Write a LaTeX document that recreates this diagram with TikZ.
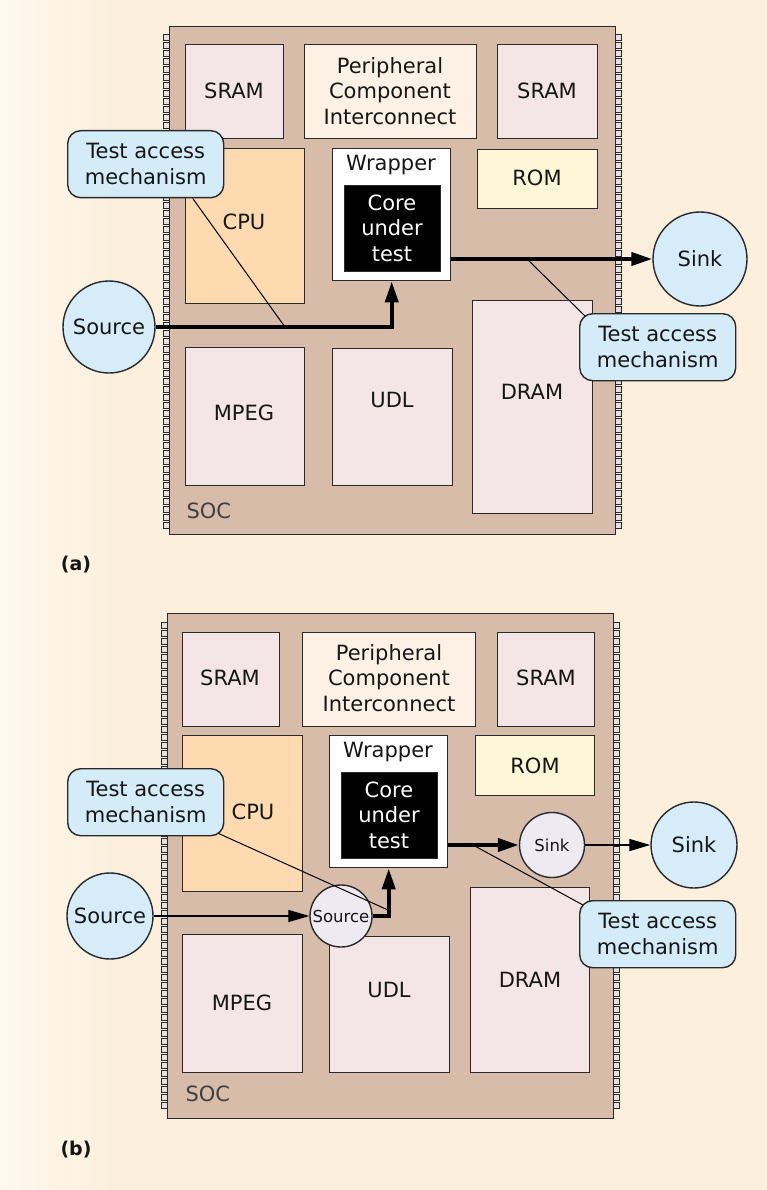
\documentclass[tikz,border=0pt]{standalone}
\usepackage{fontspec}
\setmainfont{DejaVu Sans}
\usetikzlibrary{arrows.meta}

\definecolor{paper}{HTML}{FCF0DD}
\definecolor{paperlight}{HTML}{FEF8EE}
\definecolor{die}{HTML}{D8BCAA}
\definecolor{block}{HTML}{F4E6E6}
\definecolor{pcifill}{HTML}{FDF1E5}
\definecolor{cpufill}{HTML}{FDDAB0}
\definecolor{romfill}{HTML}{FDF6D7}
\definecolor{tam}{HTML}{D4EBF8}
\definecolor{portfill}{HTML}{D6ECF8}
\definecolor{probefill}{HTML}{EEEAF2}
\definecolor{pinfill}{HTML}{E2E2E2}
\definecolor{edge}{HTML}{2A2A2A}
\definecolor{ink}{HTML}{161616}

% rectangular block spanning (x1,y1)-(x2,y2), y measured downwards
\newcommand\blockbox[6]{%
  \node[blk, fill=#6, minimum width={#4pt-#2pt}, minimum height={#5pt-#3pt}] (#1) at (#2,#3) {};}

\tikzset{
  every node/.style={font=\fontsize{21}{25.5}\selectfont, text=ink},
  blk/.style={draw=edge, line width=1.4pt, inner sep=0pt, anchor=north west},
  pin/.style={draw=edge, line width=0.9pt, fill=pinfill},
  bus/.style={line width=4pt, -{Triangle[length=21pt,width=13pt]}},
  wire/.style={line width=1.3pt, -{Triangle[length=21pt,width=12pt]}},
  lead/.style={line width=1pt},
  callout/.style={draw=edge, line width=1.4pt, fill=tam, rounded corners=13pt,
    align=center, inner sep=0pt, anchor=north west,
    minimum width=156pt, minimum height=67pt},
  port/.style={circle, draw=edge, line width=1.4pt, fill=portfill, inner sep=0pt},
  probe/.style={circle, draw=edge, line width=1.4pt, fill=probefill, inner sep=0pt,
    font=\fontsize{16.5}{20}\selectfont},
  soclabel/.style={anchor=west, text=edge!90},
  panel/.style={font=\fontsize{19}{23}\selectfont\bfseries},
}

\begin{document}
\begin{tikzpicture}[x=1pt,y=-1pt]
\useasboundingbox (0,0) rectangle (767,1190);
\fill[paper] (0,0) rectangle (767,1190);
\shade[left color=paperlight, right color=paper] (0,0) rectangle (110,1190);

% ---------------- (a) ----------------
\foreach \y in {34,42,...,522} {
  \draw[pin] (163,\y) rectangle (169,\y+6);
  \draw[pin] (615,\y) rectangle (621,\y+6);
}
\blockbox{soca}{169}{26}{615}{534}{die}
\node[soclabel] (soctxta) at (183,511) {SOC};

\blockbox{srama1}{185}{44}{283}{138}{block}
\node (sramtxta1) at (234,91) {SRAM};
\blockbox{pcia}{304}{44}{476}{138}{pcifill}
\node[align=center] (pcitxta) at (390,91) {Peripheral\\Component\\Interconnect};
\blockbox{srama2}{497}{44}{597}{138}{block}
\node (sramtxta2) at (547,91) {SRAM};

\blockbox{cpua}{185}{148}{304}{303}{cpufill}
\node (cputxta) at (244,222) {CPU};
\blockbox{wrapa}{332}{148}{450}{280}{white}
\node (wraptxta) at (391,165) {Wrapper};
\blockbox{corea}{344}{185}{440}{271}{black}
\node[align=center, text=white] (coretxta) at (392,228) {Core\\under\\test};
\blockbox{roma}{477}{149}{597}{208}{romfill}
\node (romtxta) at (537,178) {ROM};

\blockbox{mpega}{185}{347}{304}{485}{block}
\node (mpegtxta) at (244,413) {MPEG};
\blockbox{udla}{332}{348}{452}{485}{block}
\node (udltxta) at (392,400) {UDL};
\blockbox{drama}{472}{300}{592}{513}{block}
\node (dramtxta) at (532,392) {DRAM};

\node[port, minimum size=92pt] (srca) at (109,327) {Source};
\node[port, minimum size=94pt] (sinka) at (700,259) {Sink};

\draw[bus] (srca) -- (srca -| wrapa) -- (wrapa);
\draw[bus] (wrapa.east |- sinka) -- (sinka);

\coordinate (tapa1) at (285,327);
\coordinate (tapa2) at (527,259);
\node[callout] (tama1) at (67,130) {Test access\\mechanism};
\node[callout] (tama2) at (579,313) {Test access\\mechanism};
\draw[lead] ([xshift=47pt]tama1.south) -- (tapa1);
\draw[lead] (tapa2) -- ([xshift=6pt,yshift=-3pt]tama2.north west);

\node[panel] (panela) at (76,565) {(a)};

% ---------------- (b) ----------------
\foreach \y in {622,630,...,1108} {
  \draw[pin] (161,\y) rectangle (167,\y+6);
  \draw[pin] (613,\y) rectangle (619,\y+6);
}
\blockbox{socb}{167}{613}{613}{1118}{die}
\node[soclabel] (soctxtb) at (182,1094) {SOC};

\blockbox{sramb1}{182}{632}{279}{726}{block}
\node (sramtxtb1) at (230,678) {SRAM};
\blockbox{pcib}{302}{632}{475}{726}{pcifill}
\node[align=center] (pcitxtb) at (389,678) {Peripheral\\Component\\Interconnect};
\blockbox{sramb2}{497}{632}{594}{726}{block}
\node (sramtxtb2) at (546,678) {SRAM};

\blockbox{cpub}{182}{735}{302}{891}{cpufill}
\node (cputxtb) at (253,812) {CPU};
\blockbox{wrapb}{329}{735}{447}{867}{white}
\node (wraptxtb) at (388,752) {Wrapper};
\blockbox{coreb}{341}{772}{437}{858}{black}
\node[align=center, text=white] (coretxtb) at (389,815) {Core\\under\\test};
\blockbox{romb}{475}{735}{594}{795}{romfill}
\node (romtxtb) at (535,766) {ROM};

\blockbox{mpegb}{182}{934}{302}{1072}{block}
\node (mpegtxtb) at (242,1003) {MPEG};
\blockbox{udlb}{329}{936}{449}{1072}{block}
\node (udltxtb) at (389,990) {UDL};
\blockbox{dramb}{470}{887}{589}{1072}{block}
\node (dramtxtb) at (530,980) {DRAM};

\node[port, minimum size=86pt] (srcb) at (110,916) {Source};
\node[port, minimum size=86pt] (sinkb) at (694,845) {Sink};
\node[probe, minimum size=62pt] (locsrc) at (341,916) {Source};
\node[probe, minimum size=65pt] (locsink) at (552,845) {Sink};

\draw[wire] (srcb) -- (locsrc);
\draw[bus] (locsrc) -- (locsrc -| wrapb) -- (wrapb);
\draw[bus] (wrapb.east |- locsink) -- (locsink);
\draw[wire] (locsink) -- (sinkb);

\coordinate (tapb1) at (388,910);
\coordinate (tapb2) at (473,845);
\node[callout] (tamb1) at (67,768) {Test access\\mechanism};
\node[callout] (tamb2) at (579,900) {Test access\\mechanism};
\draw[lead] ([xshift=-6pt,yshift=3pt]tamb1.south east) -- (tapb1);
\draw[lead] (tapb2) -- ([xshift=4pt,yshift=-5pt]tamb2.north west);

\node[panel] (panelb) at (76,1150) {(b)};
\end{tikzpicture}
\end{document}
